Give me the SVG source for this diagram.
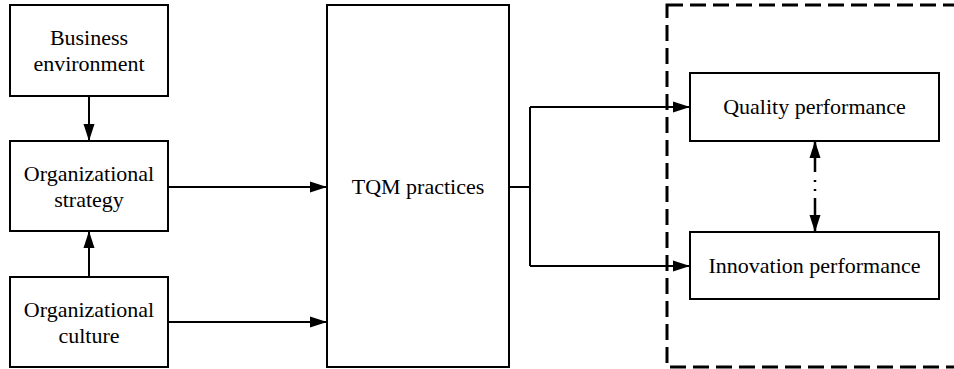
<svg xmlns="http://www.w3.org/2000/svg" width="954" height="369" viewBox="0 0 954 369">
<style>
.box{fill:#fff;stroke:#000;stroke-width:2}
.lbl{font-family:"Liberation Serif","Times New Roman",serif;font-size:22px;fill:#000;text-anchor:middle}
.con{fill:none;stroke:#000;stroke-width:2}
.arr{marker-end:url(#ah)}
</style>
<defs>
<marker id="ah" markerUnits="userSpaceOnUse" markerWidth="18" markerHeight="12" refX="17" refY="6" orient="auto">
<path d="M0,0.5 L17,6 L0,11.5 Z" fill="#000"/>
</marker>
<marker id="ahs" markerUnits="userSpaceOnUse" markerWidth="18" markerHeight="12" refX="17" refY="6" orient="auto-start-reverse">
<path d="M0,0.5 L17,6 L0,11.5 Z" fill="#000"/>
</marker>
</defs>
<rect x="0" y="0" width="954" height="369" fill="#fff"/>
<g id="outcomes-group">
<rect x="667" y="5" width="300" height="362" fill="none" stroke="#000" stroke-width="3" stroke-dasharray="16 7"/>
</g>
<g id="business-environment">
<rect class="box" x="10" y="5" width="158" height="91"/>
<text class="lbl" x="89" y="45">Business</text>
<text class="lbl" x="89" y="71">environment</text>
</g>
<g id="organizational-strategy">
<rect class="box" x="10" y="141" width="158" height="90"/>
<text class="lbl" x="89" y="181">Organizational</text>
<text class="lbl" x="89" y="207">strategy</text>
</g>
<g id="organizational-culture">
<rect class="box" x="10" y="277" width="158" height="90"/>
<text class="lbl" x="89" y="317">Organizational</text>
<text class="lbl" x="89" y="343">culture</text>
</g>
<g id="tqm-practices">
<rect class="box" x="327" y="5" width="182" height="362"/>
<text class="lbl" x="418" y="194">TQM practices</text>
</g>
<g id="quality-performance">
<rect class="box" x="690" y="73" width="249" height="68"/>
<text class="lbl" x="814.5" y="114">Quality performance</text>
</g>
<g id="innovation-performance">
<rect class="box" x="690" y="232" width="249" height="67"/>
<text class="lbl" x="814.5" y="273">Innovation performance</text>
</g>
<g id="connectors">
<line class="con arr" x1="89" y1="96" x2="89" y2="141"/>
<line class="con arr" x1="89" y1="277" x2="89" y2="231"/>
<line class="con arr" x1="168" y1="187" x2="327" y2="187"/>
<line class="con arr" x1="168" y1="322" x2="327" y2="322"/>
<path class="con" d="M509,187 H530 M530,107 V266"/>
<line class="con arr" x1="530" y1="107" x2="690" y2="107"/>
<line class="con arr" x1="530" y1="266" x2="690" y2="266"/>
<line x1="815" y1="141" x2="815" y2="232" stroke="#000" stroke-width="2.5" stroke-dasharray="31 8 2 7 2 7 34" marker-start="url(#ahs)" marker-end="url(#ah)"/>
</g>
</svg>
